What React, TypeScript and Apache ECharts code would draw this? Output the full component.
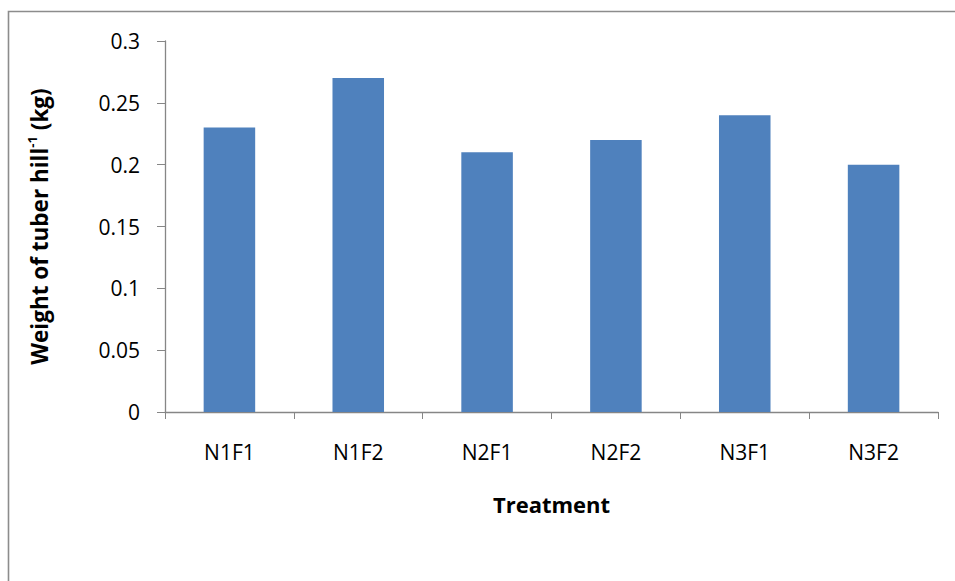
import React, { useEffect, useRef } from "react";
import * as echarts from "echarts";

const categories = ["N1F1", "N1F2", "N2F1", "N2F2", "N3F1", "N3F2"];
const tuberWeight = [0.23, 0.27, 0.21, 0.22, 0.24, 0.2];
const yTicks = { min: 0, max: 0.3, interval: 0.05 };

const FONT = "'Open Sans', 'Noto Sans', sans-serif";
const AXIS_GREY = "#868686";

export default function App() {
  const ref = useRef<HTMLDivElement>(null);

  useEffect(() => {
    if (!ref.current) return;
    const chart = echarts.init(ref.current, null, { renderer: "svg" });
    chart.setOption({
      animation: false,
      backgroundColor: "#ffffff",
      textStyle: { fontFamily: FONT },
      graphic: [
        {
          type: "rect",
          shape: { x: 8.5, y: 11.5, width: 1000, height: 1000 },
          style: { fill: "none", stroke: "#8c8c8c", lineWidth: 1.6 },
          silent: true,
        },
      ],
      grid: { left: 165, right: 17, top: 41, bottom: 169, containLabel: false },
      xAxis: {
        type: "category",
        data: categories,
        name: "Treatment",
        nameLocation: "middle",
        nameGap: 81,
        nameTextStyle: { fontFamily: FONT, fontSize: 22, fontWeight: "bold", color: "#000" },
        axisLine: { lineStyle: { color: AXIS_GREY, width: 1.3 } },
        axisTick: { show: true, alignWithLabel: false, length: 7, lineStyle: { color: AXIS_GREY } },
        axisLabel: { fontFamily: FONT, fontSize: 21, color: "#000", margin: 29 },
      },
      yAxis: {
        type: "value",
        min: yTicks.min,
        max: yTicks.max,
        interval: yTicks.interval,
        name: "{main|Weight of tuber hill}{sup|-1}{main| (kg)}",
        nameLocation: "middle",
        nameRotate: 90,
        nameGap: 112,
        nameTextStyle: {
          fontFamily: FONT,
          fontWeight: "bold",
          color: "#000",
          rich: {
            main: { fontFamily: FONT, fontSize: 22.5, fontWeight: "bold", color: "#000", lineHeight: 28 },
            sup: { fontFamily: FONT, fontSize: 13, fontWeight: "bold", color: "#000", verticalAlign: "top", lineHeight: 28, padding: [0, 0, 10, 0] },
          },
        },
        splitLine: { show: false },
        axisLine: { show: true, lineStyle: { color: AXIS_GREY, width: 1.3 } },
        axisTick: { show: true, length: 8, lineStyle: { color: AXIS_GREY } },
        axisLabel: {
          fontFamily: FONT,
          fontSize: 21,
          color: "#000",
          margin: 25,
          formatter: (v: number) => String(parseFloat(v.toFixed(2))),
        },
      },
      series: [
        {
          type: "bar",
          data: tuberWeight,
          barWidth: "40%",
          itemStyle: { color: "#4f81bd" },
        },
      ],
    });
    return () => chart.dispose();
  }, []);

  return (
    <div
      ref={ref}
      style={{ position: "fixed", left: 0, top: 0, width: 955, height: 581 }}
    />
  );
}
